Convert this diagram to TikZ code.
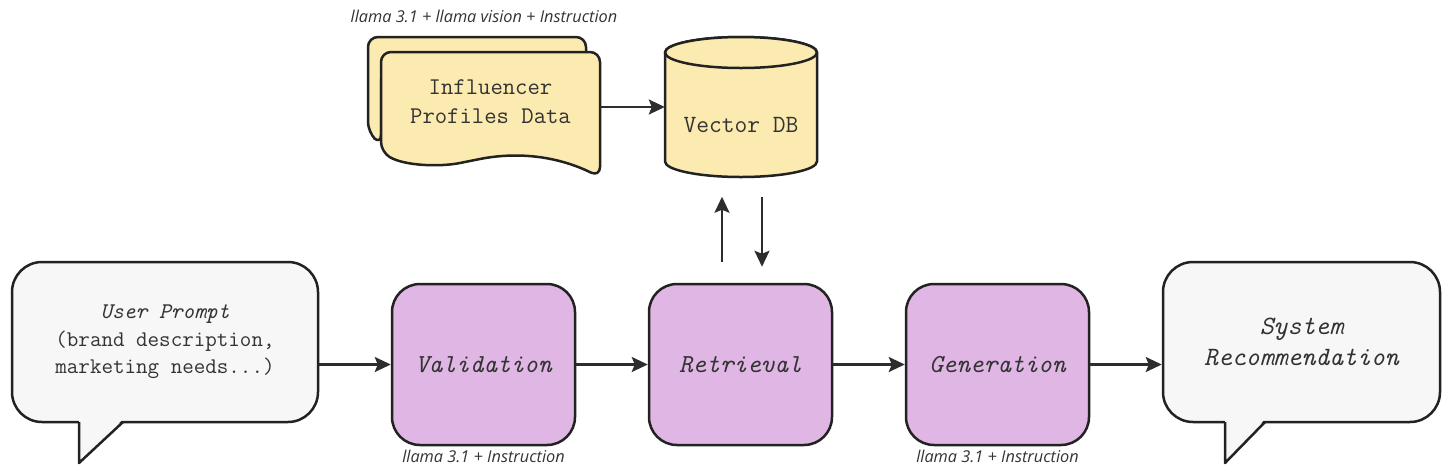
\documentclass[tikz,border=0pt]{standalone}
\usepackage{fontspec}
\newfontfamily\notefont{Open Sans}
\usetikzlibrary{arrows.meta,positioning,calc}

\definecolor{stagefill}{HTML}{DFB6E4}
\definecolor{datafill}{HTML}{FCEBB0}
\definecolor{bubblefill}{HTML}{F7F7F7}
\definecolor{ink}{HTML}{222222}
\definecolor{inktext}{HTML}{333333}

\tikzset{
  stage/.style={draw=ink, line width=2.5pt, fill=stagefill, rounded corners=28pt,
    minimum width=183pt, minimum height=161pt, text=inktext,
    font=\fontsize{26}{30}\selectfont\ttfamily\itshape},
  bubble/.style={draw=ink, line width=2.5pt, fill=bubblefill, rounded corners=30pt,
    minimum height=160pt, align=center, text=inktext},
  datashape/.style={draw=ink, line width=2.5pt, fill=datafill, line join=round},
  datatext/.style={align=center, text=inktext, font=\fontsize{24}{29}\selectfont\ttfamily},
  flow/.style={draw=ink!95, line width=2.2pt, -{Stealth[length=16pt,width=15pt,inset=3pt]}},
  note/.style={text=inktext, font=\fontsize{16.3}{19}\selectfont\notefont\itshape}
}

\begin{document}
\begin{tikzpicture}[x=1pt,y=-1pt]
\useasboundingbox (0,0) rectangle (1449,475);

%stages
\node[stage] (valid) at (483.5,364.5) {Validation};
\node[stage] (retr) at (740.5,364.5) {Retrieval};
\node[stage] (gen) at (997.5,364.5) {Generation};
\node[note, below=0pt of valid] (validnote) {llama 3.1 + Instruction};
\node[note, below=0pt of gen] (gennote) {llama 3.1 + Instruction};

%user prompt
\node[bubble, minimum width=306pt, font=\fontsize{22.4}{27.5}\selectfont\ttfamily] (user) at (165,342)
  {\textit{User Prompt}\\(brand description,\\marketing needs...)};
\fill[bubblefill] (79,419) -- (79,463) -- (123,419) -- cycle;
\draw[ink, line width=2.5pt, line join=round] (79,422) -- (79,463) -- (123,422);

%system recommendation
\node[bubble, minimum width=277pt, font=\fontsize{26.5}{31}\selectfont\ttfamily\itshape] (sysrec) at (1301.5,342)
  {System\\Recommendation};
\fill[bubblefill] (1225,419) -- (1225,463) -- (1265,419) -- cycle;
\draw[ink, line width=2.5pt, line join=round] (1225,422) -- (1225,463) -- (1265,422);

%influencer data
\node[note] (docnote) at (484,16) {llama 3.1 + llama vision + Instruction};
\draw[datashape, rounded corners=10pt] (381,145) -- (368,132) -- (368,37) -- (586,37) -- (586,70) -- (381,70) -- cycle;
\draw[datashape, rounded corners=10pt] (600,177) .. controls (555,155) and (515,152) .. (470,161)
  .. controls (440,167) and (405,166) .. (381,152) -- (381,52) -- (600,52) -- cycle;
\node[datatext] (docs) at (490.5,102) {Influencer\\Profiles Data};

%vector db
\draw[datashape] (665,52.5) -- (665,161.5) arc[start angle=180, end angle=360, x radius=76pt, y radius=15.5pt]
  -- (817,52.5) arc[start angle=0, end angle=180, x radius=76pt, y radius=15.5pt] -- cycle;
\draw[datashape] (741,52.5) ellipse[x radius=76pt, y radius=15.5pt];
\node[datatext, font=\fontsize{24.8}{29}\selectfont\ttfamily, minimum width=152pt, inner sep=0pt] (vdb) at (741,125) {Vector DB};

%connectors
\draw[flow] ([yshift=-5pt]docs.east -| 600,0) -- ([yshift=-5pt]docs.east -| vdb.west);
\draw[flow] ([xshift=-18.5pt,yshift=21pt]retr.north) -- ++(0,-65);
\draw[flow] ([xshift=21.5pt,yshift=86pt]retr.north) -- ++(0,70);
\draw[flow] (user.east |- valid.west) -- (valid.west);
\draw[flow] (valid) -- (retr);
\draw[flow] (retr) -- (gen);
\draw[flow] (gen.east) -- (gen.east -| sysrec.west);

\end{tikzpicture}
\end{document}
